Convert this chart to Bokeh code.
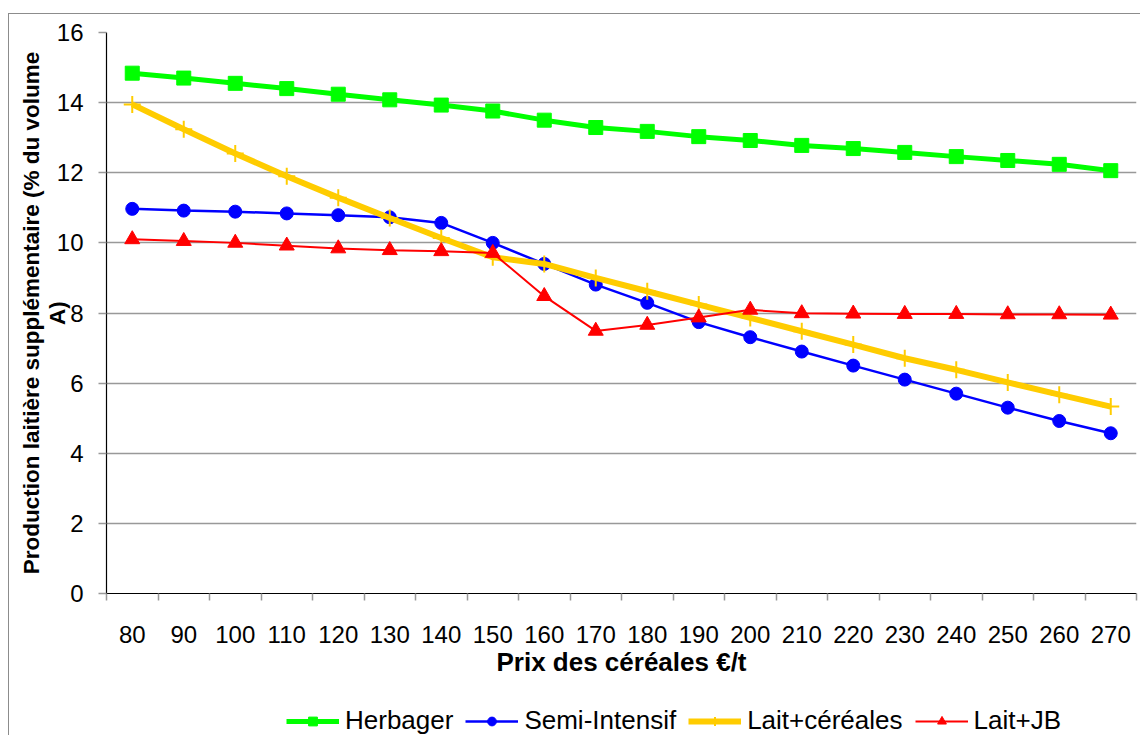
from bokeh.plotting import figure
from bokeh.layouts import column
from bokeh.models import Range1d, FixedTicker, Legend, LegendItem
from bokeh.embed import file_html
from bokeh.resources import INLINE

# ---- data ----
prices = [80, 90, 100, 110, 120, 130, 140, 150, 160, 170,
          180, 190, 200, 210, 220, 230, 240, 250, 260, 270]
herbager = [14.84, 14.70, 14.55, 14.40, 14.24, 14.08, 13.93, 13.76, 13.50, 13.29,
            13.18, 13.03, 12.92, 12.78, 12.69, 12.58, 12.46, 12.35, 12.24, 12.06]
semi_intensif = [10.97, 10.92, 10.89, 10.84, 10.79, 10.73, 10.57, 10.00, 9.40, 8.81,
                 8.29, 7.74, 7.31, 6.90, 6.50, 6.10, 5.70, 5.30, 4.92, 4.57]
lait_cereales = [13.95, 13.24, 12.55, 11.90, 11.29, 10.71, 10.14, 9.59, 9.40, 9.00,
                 8.62, 8.24, 7.86, 7.48, 7.10, 6.71, 6.38, 6.02, 5.67, 5.33]
lait_jb = [10.10, 10.05, 10.00, 9.92, 9.84, 9.79, 9.76, 9.71, 8.48, 7.49,
           7.66, 7.87, 8.09, 7.99, 7.98, 7.97, 7.97, 7.96, 7.96, 7.95]
y_ticks = [0, 2, 4, 6, 8, 10, 12, 14, 16]
series_names = ["Herbager", "Semi-Intensif", "Lait+céréales", "Lait+JB"]
x_title = "Prix des céréales €/t"
y_title = "Production laitière supplémentaire (% du volume\nA)"

FONT = "Liberation Sans"
styles = [
    dict(color="#00FF00", lw=5, marker="square", size=14),
    dict(color="#0000FF", lw=2.5, marker="circle", size=13),
    dict(color="#FFCC00", lw=6, marker="cross", size=17),
    dict(color="#FF0000", lw=2, marker="triangle", size=15),
]
series = [herbager, semi_intensif, lait_cereales, lait_jb]

W = 1132
H_CHART = 679
H_LEG = 43


def draw_series(fig, xs, vals, st):
    lr = fig.line(xs, vals, line_color=st["color"], line_width=st["lw"])
    if st["marker"] == "cross":
        sr = fig.scatter(xs, vals, marker="cross", size=st["size"],
                         line_color=st["color"], line_width=2)
    else:
        sr = fig.scatter(xs, vals, marker=st["marker"], size=st["size"],
                         fill_color=st["color"], line_color=st["color"])
    return lr, sr


step = prices[1] - prices[0]
p = figure(width=W, height=H_CHART, output_backend="svg", toolbar_location=None,
           x_range=Range1d(prices[0] - step / 2, prices[-1] + step / 2),
           y_range=Range1d(0, 16),
           min_border_left=97, min_border_right=5, min_border_top=18,
           min_border_bottom=100)
p.outline_line_color = None
p.background_fill_color = "white"
p.border_fill_color = "white"

# x axis: labels at categories, ticks at category boundaries
xa = p.xaxis[0]
xa.ticker = FixedTicker(ticks=prices,
                        minor_ticks=[v - step / 2 for v in prices] + [prices[-1] + step / 2])
xa.major_tick_out = 0
xa.major_tick_in = 0
xa.minor_tick_out = 7
xa.minor_tick_in = 0
xa.minor_tick_line_color = "#999999"
xa.minor_tick_line_width = 1.5
xa.axis_line_color = "black"
xa.axis_line_width = 1.2
xa.major_label_text_font = FONT
xa.major_label_text_font_size = "24px"
xa.major_label_text_color = "black"
xa.major_label_standoff = 25
xa.axis_label = x_title
xa.axis_label_text_font = FONT
xa.axis_label_text_font_size = "26px"
xa.axis_label_text_font_style = "bold"
xa.axis_label_text_color = "black"
xa.axis_label_standoff = 1

ya = p.yaxis[0]
ya.ticker = FixedTicker(ticks=y_ticks)
ya.minor_tick_line_color = None
ya.major_tick_out = 8
ya.major_tick_in = 0
ya.major_tick_line_color = "#999999"
ya.major_tick_line_width = 1.5
ya.axis_line_color = "black"
ya.axis_line_width = 1.2
ya.major_label_text_font = FONT
ya.major_label_text_font_size = "24px"
ya.major_label_text_color = "black"
ya.major_label_standoff = 15
ya.axis_label = y_title
ya.axis_label_text_font = FONT
ya.axis_label_text_font_size = "22.5px"
ya.axis_label_text_font_style = "bold"
ya.axis_label_text_color = "black"
ya.axis_label_text_line_height = 1.05
ya.axis_label_standoff = -16

p.xgrid.grid_line_color = None
p.ygrid.ticker = FixedTicker(ticks=y_ticks[1:])
p.ygrid.grid_line_color = "#999999"
p.ygrid.grid_line_width = 1.5

for vals, st in zip(series, styles):
    draw_series(p, prices, vals, st)

# ---- legend strip below the chart (its own glyphs fall outside its ranges) ----
pl = figure(width=W, height=H_LEG, output_backend="svg", toolbar_location=None,
            x_range=Range1d(0, 1), y_range=Range1d(0, 1),
            x_axis_type=None, y_axis_type=None, min_border=0)
pl.outline_line_color = None
pl.xgrid.grid_line_color = None
pl.ygrid.grid_line_color = None
pl.background_fill_color = "white"
pl.border_fill_color = "white"

items = []
for name, vals, st in zip(series_names, series, styles):
    lr, sr = draw_series(pl, prices, vals, st)
    items.append(LegendItem(label=name, renderers=[lr, sr]))

legend = Legend(items=items, orientation="horizontal", location=(180, 0),
                label_text_font=FONT, label_text_font_size="26px",
                label_text_color="black", glyph_width=53, glyph_height=22,
                label_standoff=6, spacing=12, padding=0, margin=0,
                border_line_color=None, background_fill_alpha=0)
pl.add_layout(legend, "center")

layout = column(p, pl, spacing=0)
# outer chart border (top and left edges visible in the reference)
layout.margin = (14, 0, 0, 9)
layout.styles = {"box-shadow": "-1px -1px 0 0 #8c8c8c"}

open("out.html", "w").write(file_html(layout, INLINE))
